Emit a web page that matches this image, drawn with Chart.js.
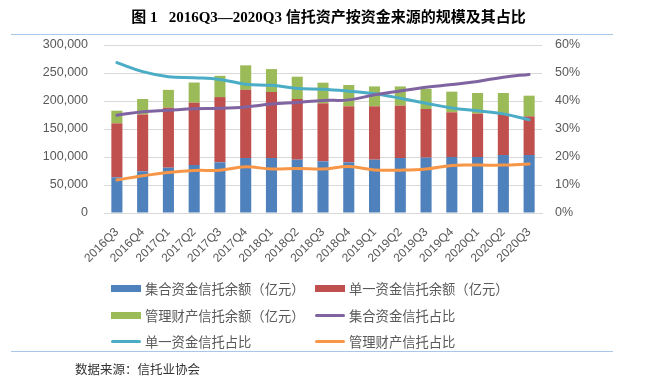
<!DOCTYPE html>
<html>
<head>
<meta charset="utf-8">
<script src="https://cdn.jsdelivr.net/npm/chart.js@4.4.1/dist/chart.umd.min.js"></script>
<style>
  html, body { margin: 0; padding: 0; background: #fff; }
  #wrap { position: relative; width: 657px; height: 381px; overflow: hidden; background: #fff; }
  #chart { position: absolute; left: 0; top: 0; }
  #title { position: absolute; left: 0; top: 5px; width: 657px; text-align: center;
    font: bold 15px "Liberation Serif", "Noto Sans CJK SC", serif; color: #000; white-space: pre; }
  .hr { position: absolute; left: 11px; width: 602px; height: 0; border-top: 1px solid #a9c7eb; }
  .lg { position: absolute; height: 20px; display: flex; align-items: center;
    font: 13.3px "Noto Sans CJK SC", sans-serif; color: #595959; white-space: nowrap; }
  .sw { display: inline-block; width: 30px; margin-right: 4px; }
  #src { position: absolute; left: 75px; top: 359px; font: 12.5px "Noto Sans CJK SC", serif; color: #333; }
</style>
</head>
<body>
<div id="wrap">
  <canvas id="chart" width="657" height="381"></canvas>
  <div id="title">图 1   2016Q3—2020Q3 信托资产按资金来源的规模及其占比</div>
  <div class="hr" style="top:34px"></div>
  <div class="hr" style="top:351px"></div>
  <div id="legend"></div>
  <div id="src">数据来源：信托业协会</div>
</div>
<script>
// ---- data ----
const categories = ['2016Q3','2016Q4','2017Q1','2017Q2','2017Q3','2017Q4','2018Q1','2018Q2','2018Q3','2018Q4','2019Q1','2019Q2','2019Q3','2019Q4','2020Q1','2020Q2','2020Q3'];
const collectiveBalance = [63700, 74400, 80900, 85700, 90500, 98200, 98200, 95200, 92300, 90500, 95200, 98200, 98800, 100000, 100000, 103600, 103600];
const singleBalance     = [96400, 101500, 107000, 111300, 116500, 121800, 117800, 108400, 103500, 100000, 95300, 93500, 86900, 79800, 77400, 73800, 69000];
const managedBalance    = [22600, 27700, 32000, 36000, 38000, 43700, 41000, 39800, 36900, 38100, 35500, 34300, 35700, 36900, 36900, 36900, 36900];
const collectiveShare = [34.9, 36.2, 36.7, 37.2, 37.4, 37.9, 38.9, 39.5, 40.2, 40.4, 42.2, 43.6, 44.9, 45.9, 47.0, 48.5, 49.5];
const singleShare     = [53.7, 50.5, 48.7, 48.3, 47.7, 46.0, 45.6, 44.5, 44.2, 43.5, 42.6, 41.0, 39.2, 37.5, 36.5, 35.4, 33.3];
const managedShare    = [11.8, 13.3, 14.5, 15.2, 15.3, 16.5, 15.7, 15.9, 15.7, 16.6, 15.4, 15.3, 15.7, 17.0, 17.1, 17.1, 17.5];
const leftTicks = [0, 50000, 100000, 150000, 200000, 250000, 300000];
const rightTicks = [0, 10, 20, 30, 40, 50, 60];
const seriesNames = ['集合资金信托余额（亿元）','单一资金信托余额（亿元）','管理财产信托余额（亿元）','集合资金信托占比','单一资金信托占比','管理财产信托占比'];
const seriesColors = ['#4F81BD','#C0504D','#9BBB59','#8064A2','#4BACC6','#F79646'];

// ---- chart ----
const barDs = (i, data) => ({
  type: 'bar', label: seriesNames[i], data, backgroundColor: seriesColors[i],
  yAxisID: 'y', stack: 's', order: 2, barPercentage: 0.43, categoryPercentage: 1.0
});
const lineDs = (i, data) => ({
  type: 'line', label: seriesNames[i], data, borderColor: seriesColors[i], backgroundColor: seriesColors[i],
  yAxisID: 'y1', borderWidth: 3, pointRadius: 0, tension: 0.4, order: 1, borderCapStyle: 'round'
});

const tickFont = { family: '"Liberation Sans", Arial, sans-serif', size: 12.5 };
new Chart(document.getElementById('chart'), {
  data: {
    labels: categories,
    datasets: [
      barDs(0, collectiveBalance), barDs(1, singleBalance), barDs(2, managedBalance),
      lineDs(3, collectiveShare), lineDs(4, singleShare), lineDs(5, managedShare)
    ]
  },
  options: {
    responsive: false, animation: false,
    layout: { padding: { top: 45, bottom: 111, left: 0, right: 0 } },
    plugins: { legend: { display: false }, tooltip: { enabled: false } },
    scales: {
      x: {
        stacked: true,
        grid: { display: false, drawTicks: false },
        border: { display: true, color: '#d9d9d9' },
        ticks: { autoSkip: false, minRotation: 45, maxRotation: 45, padding: 12, color: '#595959',
                 font: { family: '"Liberation Sans", Arial, sans-serif', size: 12 } },
        afterFit: s => { s.height = 57; }
      },
      y: {
        stacked: true, position: 'left', min: 0, max: 300000,
        afterBuildTicks: s => { s.ticks = leftTicks.map(v => ({ value: v })); },
        grid: { color: '#d9d9d9', drawTicks: false },
        border: { display: false },
        ticks: { padding: 16, color: '#595959', font: tickFont,
                 callback: v => v.toLocaleString('en-US') },
        afterFit: s => { s.width = 104; }
      },
      y1: {
        position: 'right', min: 0, max: 60,
        afterBuildTicks: s => { s.ticks = rightTicks.map(v => ({ value: v })); },
        grid: { display: false, drawTicks: false },
        border: { display: false },
        ticks: { padding: 13, color: '#595959', font: tickFont, callback: v => v + '%' },
        afterFit: s => { s.width = 115; }
      }
    }
  }
});

// ---- HTML legend built from series ----
const legendPos = [[111, 278], [315, 278], [111, 305], [315, 305], [111, 331], [315, 331]];
const lg = document.getElementById('legend');
seriesNames.forEach((name, i) => {
  const d = document.createElement('div');
  d.className = 'lg';
  d.style.left = legendPos[i][0] + 'px';
  d.style.top = legendPos[i][1] + 'px';
  const sw = document.createElement('span');
  sw.className = 'sw';
  if (i < 3) { sw.style.height = '7px'; sw.style.background = seriesColors[i]; }
  else { sw.style.height = '3px'; sw.style.background = seriesColors[i]; sw.style.borderRadius = '2px'; }
  d.appendChild(sw);
  d.appendChild(document.createTextNode(name));
  lg.appendChild(d);
});
</script>
</body>
</html>
